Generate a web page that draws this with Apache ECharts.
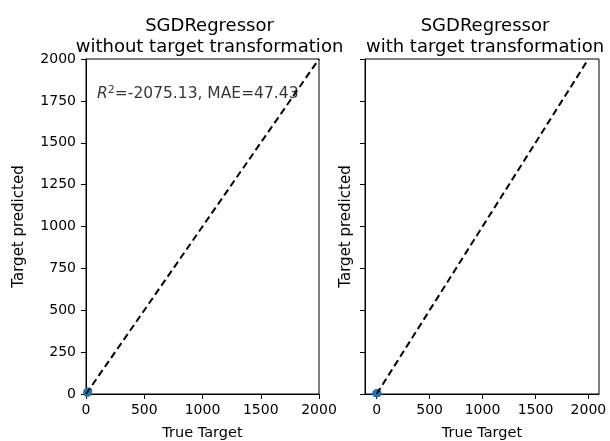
<!DOCTYPE html>
<html><head><meta charset="utf-8">
<script src="https://cdn.jsdelivr.net/npm/echarts@6/dist/echarts.min.js"></script>
<style>html,body{margin:0;padding:0;background:#fff}#c{width:610px;height:441px}</style>
</head><body><div id="c"></div>
<script>
const titles = ["SGDRegressor\nwithout target transformation", "SGDRegressor\nwith target transformation"];
const yTicks = [0, 250, 500, 750, 1000, 1250, 1500, 1750, 2000];
const xTicks = [0, 500, 1000, 1500, 2000];
const identityLine = [[0, 0], [2000, 2000]];
const pointsWithout = [[5, 12], [10, 8], [14, 16], [20, 10], [24, 18], [8, 4], [17, 6]];
const pointsWith = [[-8, 4], [-3, 8], [2, 5], [6, 10], [10, 3], [-5, 2], [12, 7], [4, 1]];
const scoreText = { r2: "-2075.13", mae: "47.43" };
const scorePos = [[95, 1750]];

const chart = echarts.init(document.getElementById('c'), null, {renderer: 'canvas'});
const FONT = 'DejaVu Sans';
const txt = {fontFamily: FONT, color: '#000', fontSize: 14};
const plain = v => String(v);
function xAxis(idx, min, max) {
  return {
    type: 'value', gridIndex: idx, min: min, max: max,
    name: 'True Target', nameLocation: 'middle', nameGap: 32,
    nameTextStyle: {fontFamily: FONT, color: '#000', fontSize: 14.5},
    axisLine: {show: true, onZero: false, lineStyle: {color: '#000', width: 1}},
    axisTick: {show: true, length: 5, lineStyle: {color: '#000'}, customValues: xTicks},
    axisLabel: Object.assign({margin: 9, customValues: xTicks, formatter: plain}, txt),
    splitLine: {show: false}
  };
}
function yAxis(idx, showLabels, nameGap) {
  return {
    type: 'value', gridIndex: idx, min: 0, max: 2000, interval: 250,
    name: 'Target predicted', nameLocation: 'middle', nameGap: nameGap,
    nameTextStyle: {fontFamily: FONT, color: '#000', fontSize: 15},
    axisLine: {show: true, onZero: false, lineStyle: {color: '#000', width: 1}},
    axisTick: {show: true, length: 5, lineStyle: {color: '#000'}, customValues: yTicks},
    axisLabel: Object.assign({show: showLabels, margin: 10, customValues: yTicks, formatter: plain}, txt),
    splitLine: {show: false}
  };
}
const titleStyle = {fontFamily: FONT, fontSize: 18, fontWeight: 'normal', color: '#000', lineHeight: 21};
const gridBase = {top: 59, bottom: 47, show: true, borderColor: '#000', borderWidth: 1, backgroundColor: 'transparent', containLabel: false, outerBoundsMode: 'none'};
const option = {
  backgroundColor: '#fff',
  animation: false,
  title: [
    {text: titles[0], left: 204.5, top: 11, textAlign: 'center', textStyle: titleStyle},
    {text: titles[1], left: 480, top: 11, textAlign: 'center', textStyle: titleStyle}
  ],
  grid: [
    Object.assign({left: 86, right: 291}, gridBase),
    Object.assign({left: 365, right: 11}, gridBase)
  ],
  xAxis: [xAxis(0, 0, 2000), xAxis(1, -110, 2100)],
  yAxis: [yAxis(0, true, 59), yAxis(1, false, 11)],
  series: [
    {type: 'scatter', xAxisIndex: 0, yAxisIndex: 0, data: pointsWithout, symbolSize: 7, itemStyle: {color: '#1f77b4', opacity: 1}, z: 2},
    {type: 'line', xAxisIndex: 0, yAxisIndex: 0, data: identityLine, symbol: 'none', lineStyle: {color: '#000', width: 2, type: [7, 4]}, z: 3},
    {type: 'scatter', xAxisIndex: 1, yAxisIndex: 1, data: pointsWith, symbolSize: 7, itemStyle: {color: '#1f77b4', opacity: 1}, z: 2},
    {type: 'line', xAxisIndex: 1, yAxisIndex: 1, data: identityLine, symbol: 'none', lineStyle: {color: '#000', width: 2, type: [7, 4]}, z: 3},
    {type: 'scatter', xAxisIndex: 0, yAxisIndex: 0, data: scorePos, symbolSize: 0, silent: true, z: 5,
      label: {show: true, position: 'inside', align: 'left', verticalAlign: 'middle', offset: [0, -7], color: '#000',
        formatter: '{i|R}{s|2}{n|=' + scoreText.r2 + ', MAE=' + scoreText.mae + '}',
        rich: {
          i: {fontFamily: FONT, fontSize: 15.5, fontStyle: 'italic', color: '#000', lineHeight: 18},
          s: {fontFamily: FONT, fontSize: 11, color: '#000', verticalAlign: 'top', padding: [0, 0, 6, 0], lineHeight: 18},
          n: {fontFamily: FONT, fontSize: 15.5, color: '#000', lineHeight: 18}
        }}}
  ]
};
chart.setOption(option);
</script>
</body></html>
